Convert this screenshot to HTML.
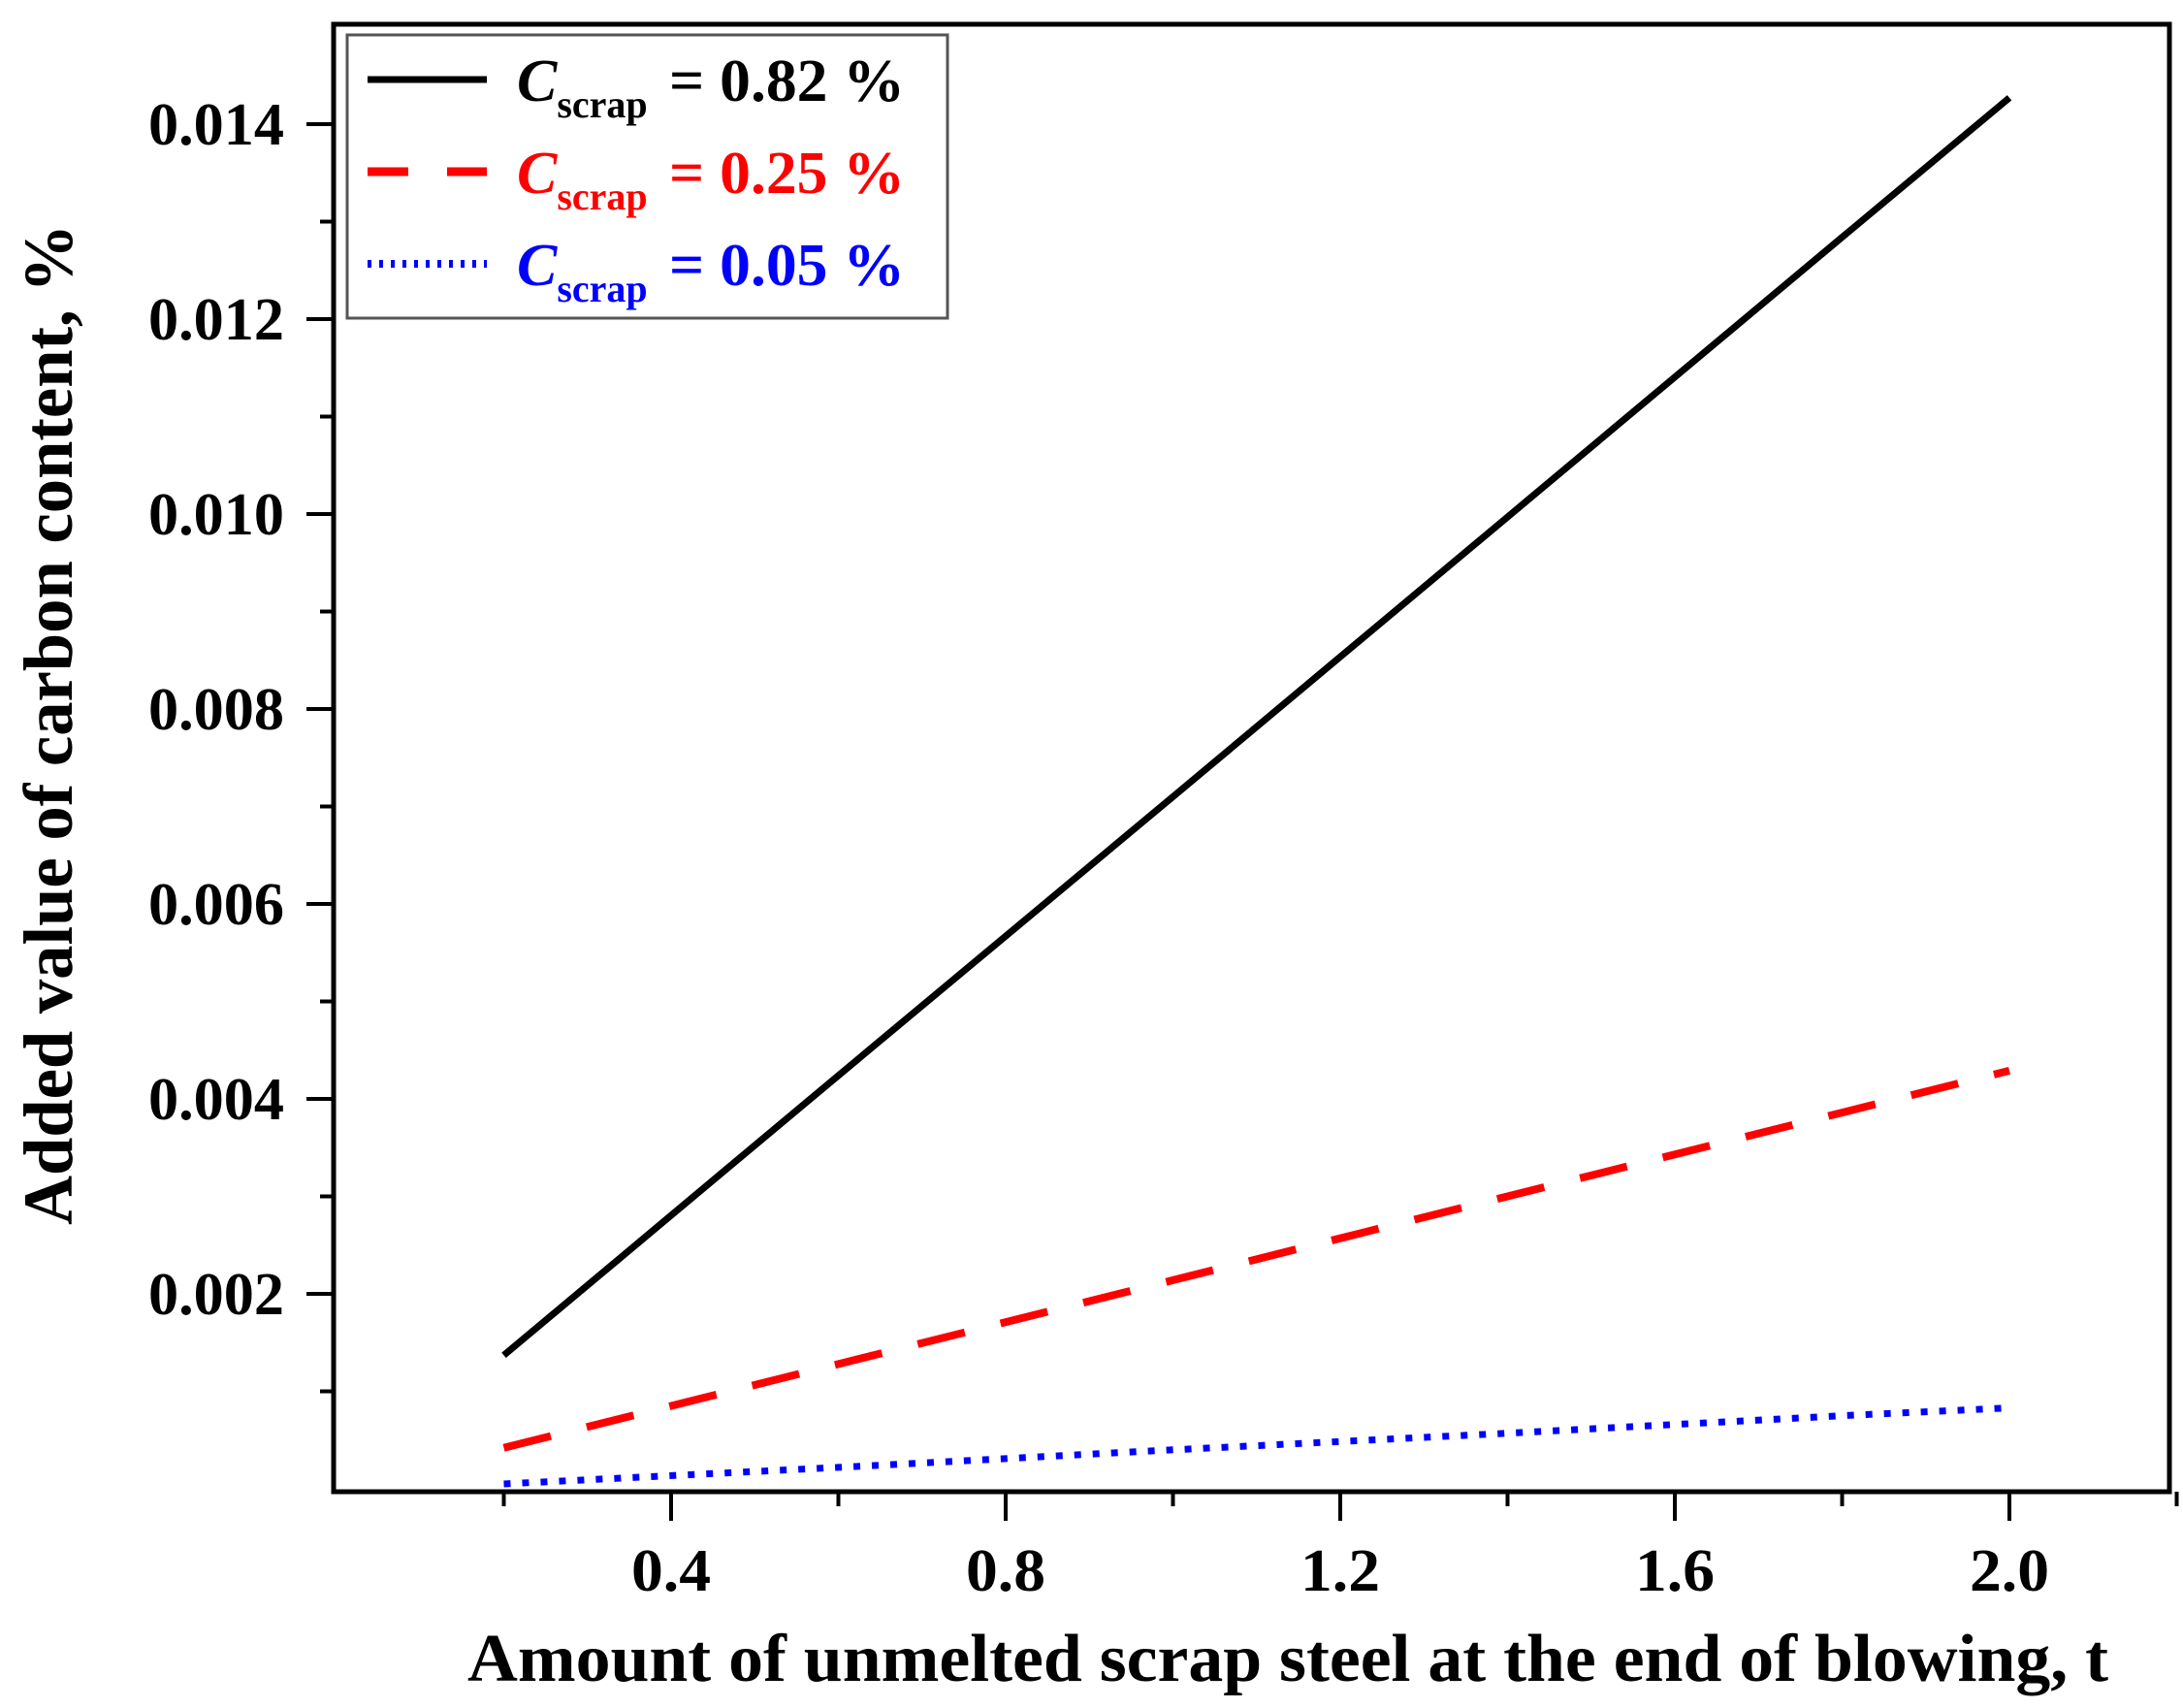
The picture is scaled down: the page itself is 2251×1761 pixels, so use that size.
<!DOCTYPE html>
<html><head><meta charset="utf-8"><style>
html,body{margin:0;padding:0;background:#fff;}
svg{display:block;font-family:"Liberation Serif",serif;font-weight:bold;}
</style></head><body>
<svg id="chart" width="2251" height="1761" viewBox="0 0 2251 1761" xmlns="http://www.w3.org/2000/svg">
<rect width="2251" height="1761" fill="#fff"/>
<g id="plot"></g>
</svg>
<script>
const xValues = [0.2, 0.6, 1.0, 1.4, 1.8, 2.0];
const seriesHigh = [0.00137, 0.00424, 0.00710, 0.00997, 0.01284, 0.01427];
const seriesMid = [0.00042, 0.00128, 0.00214, 0.00300, 0.00386, 0.00429];
const seriesLow = [0.00005, 0.00022, 0.00040, 0.00057, 0.00075, 0.00083];
const xTickLabels = ["0.4", "0.8", "1.2", "1.6", "2.0"];
const xTickValues = [0.4, 0.8, 1.2, 1.6, 2.0];
const xMinorValues = [0.2, 0.6, 1.0, 1.4, 1.8, 2.2];
const yTickLabels = ["0.002", "0.004", "0.006", "0.008", "0.010", "0.012", "0.014"];
const yTickValues = [0.002, 0.004, 0.006, 0.008, 0.010, 0.012, 0.014];
const yMinorValues = [0.001, 0.003, 0.005, 0.007, 0.009, 0.011, 0.013];

const NS = "http://www.w3.org/2000/svg";
const L = 344, R = 2237, T = 25, B = 1538;
function xs(v){ return 692 + (v - 0.4) * (345 / 0.4); }
function ys(v){ return 1535 - v * (201 / 0.002); }
const g = document.getElementById('plot');
function mk(tag, attrs, parent){
  const e = document.createElementNS(NS, tag);
  for (const k in attrs) e.setAttribute(k, attrs[k]);
  (parent || g).appendChild(e);
  return e;
}

const frame = mk('rect', {x:L, y:T, width:R-L, height:B-T, fill:'none', stroke:'#000', 'stroke-width':5});



xTickValues.forEach((v, i) => {
  const t = mk('line', {x1:xs(v), x2:xs(v), y1:B, y2:B+30, stroke:'#000', 'stroke-width':4});
  
  
  const lb = mk('text', {x:xs(v), y:1640, 'text-anchor':'middle', 'font-size':62, textLength:82, lengthAdjust:'spacingAndGlyphs'});
  lb.textContent = xTickLabels[i];
  
  
});
xMinorValues.forEach(v => {
  const t = mk('line', {x1:xs(v), x2:xs(v), y1:B, y2:B+15, stroke:'#000', 'stroke-width':4});
  
  
});
yTickValues.forEach((v, i) => {
  const t = mk('line', {x1:L-28, x2:L, y1:ys(v), y2:ys(v), stroke:'#000', 'stroke-width':4});
  
  
  const lb = mk('text', {x:293, y:ys(v)+21, 'text-anchor':'end', 'font-size':62, textLength:140, lengthAdjust:'spacingAndGlyphs'});
  lb.textContent = yTickLabels[i];
  
  
});
yMinorValues.forEach(v => {
  const t = mk('line', {x1:L-14, x2:L, y1:ys(v), y2:ys(v), stroke:'#000', 'stroke-width':4});
  
  
});

function pts(arr){ return xValues.map((x,i)=>xs(x)+','+ys(arr[i])).join(' '); }
const s1 = mk('polyline', {points:pts(seriesHigh), fill:'none', stroke:'#000', 'stroke-width':7, 'stroke-linejoin':'round'});


const s2 = mk('polyline', {points:pts(seriesMid), fill:'none', stroke:'#ff0000', 'stroke-width':8, 'stroke-dasharray':'50 38'});


const s3 = mk('polyline', {points:pts(seriesLow), fill:'none', stroke:'#0000ff', 'stroke-width':7, 'stroke-dasharray':'7 12'});



const xt = mk('text', {x:1328, y:1733, 'text-anchor':'middle', 'font-size':70, textLength:1692, lengthAdjust:'spacingAndGlyphs'});
xt.textContent = 'Amount of unmelted scrap steel at the end of blowing, t';


const yt = mk('text', {x:0, y:0, 'text-anchor':'middle', 'font-size':72, textLength:1032, lengthAdjust:'spacingAndGlyphs', transform:'translate(74,747) rotate(-90)'});
yt.textContent = 'Added value of carbon content, %';



const lg = mk('g', {});


const lbox = mk('rect', {x:358, y:36, width:619, height:292, fill:'#fff', stroke:'#555', 'stroke-width':3}, lg);


const legendItems = [
  {y:82, color:'#000', dash:'none', w:7, val:'0.82', name:'legend-entry-0-82'},
  {y:177, color:'#ff0000', dash:'42 40', w:9, val:'0.25', name:'legend-entry-0-25'},
  {y:272, color:'#0000ff', dash:'4 8', w:8, val:'0.05', name:'legend-entry-0-05'}
];
legendItems.forEach(it => {
  const e = mk('g', {}, lg);
  
  
  mk('line', {x1:379, x2:502, y1:it.y, y2:it.y, stroke:it.color, 'stroke-width':it.w, 'stroke-dasharray':it.dash}, e);
  const t = mk('text', {x:533, y:it.y+22, 'font-size':62, fill:it.color}, e);
  const c = mk('tspan', {'font-style':'italic'}, t); c.textContent = 'C';
  const s = mk('tspan', {'font-size':40, dy:17}, t); s.textContent = 'scrap';
  const r = mk('tspan', {dy:-17, x:690, textLength:243, lengthAdjust:'spacingAndGlyphs'}, t); r.textContent = '= ' + it.val + ' %';
});
</script>
</body></html>
